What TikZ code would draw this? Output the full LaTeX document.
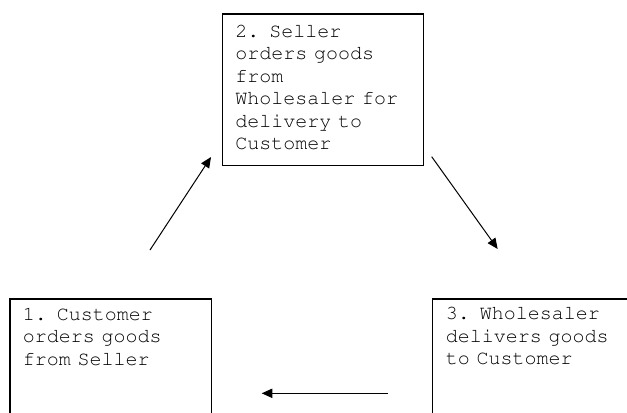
\documentclass[tikz,border=0pt]{standalone}
\usepackage[T1]{fontenc}
\usepackage{courier}
\usetikzlibrary{arrows.meta}

\begin{document}
\begin{tikzpicture}[x = 0.75pt, y = -0.75pt,
    stepbox/.style = {draw, line width = 1pt, inner sep = 0pt, anchor = north west,
        minimum width = 151pt, minimum height = 113.8pt},
    steptext/.style = {inner sep = 0pt, anchor = base west, align = left, text width = 150pt,
        font = \ttfamily\fontsize{15}{16.9}\selectfont},
    flow/.style = {-{Triangle[length = 8pt, width = 7pt]}, line width = 0.75pt}]
\useasboundingbox (0,0) rectangle (627,412);
\node[stepbox] (seller) at (221.7,13.3) {};
\node[stepbox] (customer) at (9.3,298.3) {};
\node[stepbox] (wholesaler) at (431.7,298.3) {};
\node[steptext] (sellertext) at ([shift = {(13.4,24)}]seller.north west)
    {2. Seller\\orders goods\\from\\Wholesaler for\\delivery to\\Customer};
\node[steptext] (customertext) at ([shift = {(13.4,21.7)}]customer.north west)
    {1. Customer\\orders goods\\from Seller};
\node[steptext] (wholesalertext) at ([shift = {(14,21.2)}]wholesaler.north west)
    {3. Wholesaler\\delivers goods\\to Customer};
\coordinate (order start) at (150,250);
\coordinate (order end) at (211,157);
\coordinate (supply start) at (431.7,156.7);
\coordinate (supply end) at (497.7,249);
\coordinate (deliver start) at (387.7,393.3);
\coordinate (deliver end) at (261.7,393.3);
\draw[flow] (order start) -- (order end);
\draw[flow] (supply start) -- (supply end);
\draw[flow] (deliver start) -- (deliver end);
\end{tikzpicture}
\end{document}
